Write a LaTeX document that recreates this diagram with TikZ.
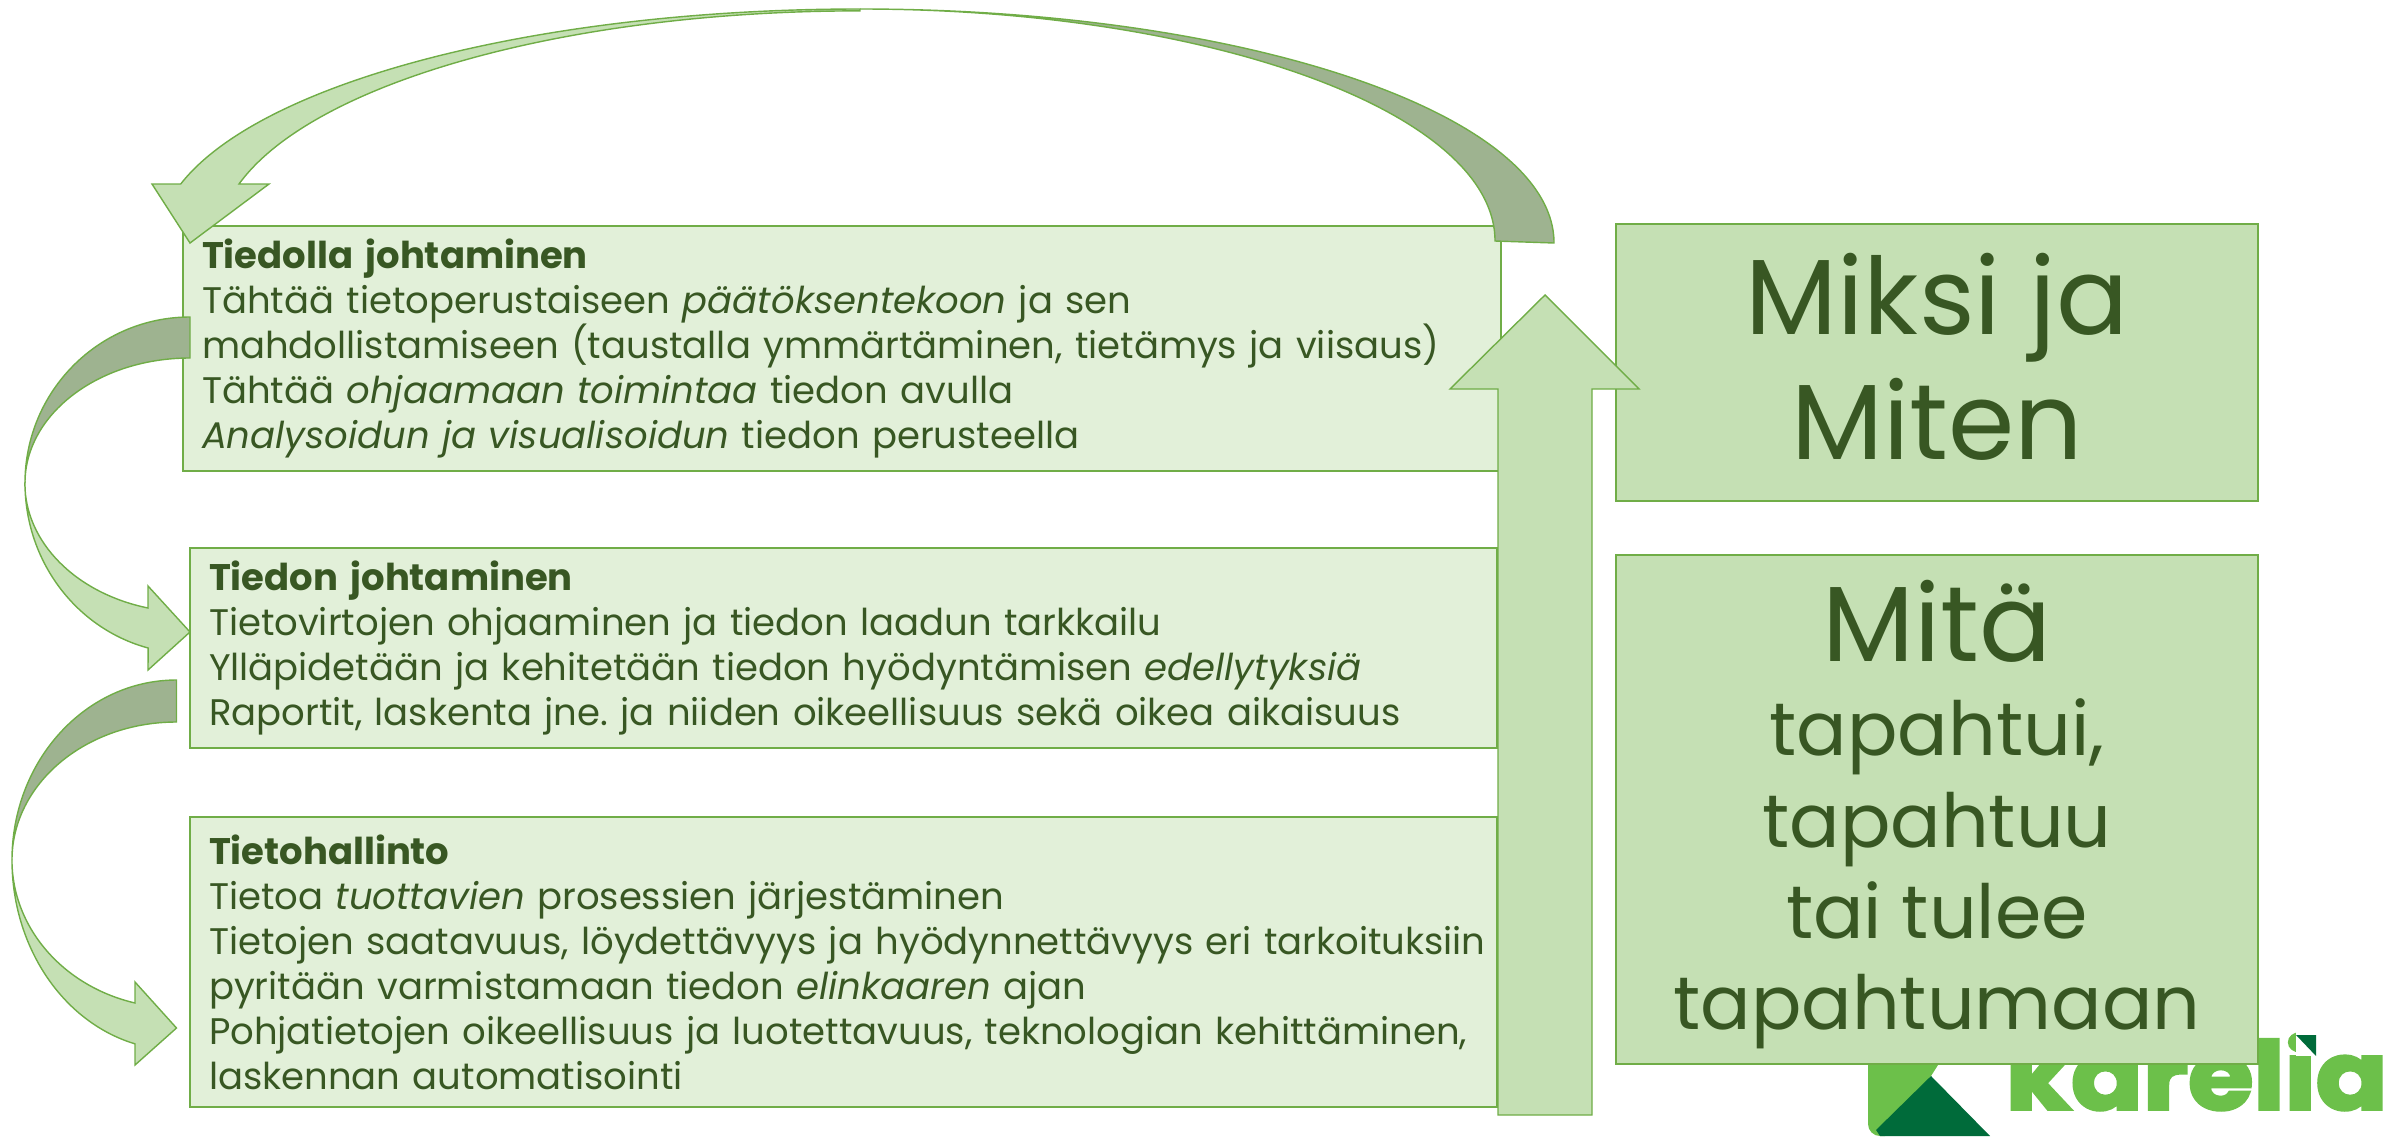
\documentclass[tikz,border=0pt]{standalone}
\usepackage{fontspec}
\setmainfont{Poppins}
\newfontfamily\logofont[BoldFeatures={FakeBold=3}]{Poppins}
\definecolor{boxline}{HTML}{70AD47}
\definecolor{boxpale}{HTML}{E2F0D9}
\definecolor{boxmid}{HTML}{C5E0B4}
\definecolor{banddark}{HTML}{9EB390}
\definecolor{textgreen}{HTML}{385723}
\definecolor{logolight}{HTML}{6CC04A}
\definecolor{logodark}{HTML}{006B3A}
\tikzset{
	infobox/.style={draw=boxline,fill=boxpale,line width=0.6pt,anchor=north west,inner xsep=0.19cm,inner ysep=0pt,outer sep=0pt,align=left,text=textgreen,font=\fontsize{10.53}{12.8}\selectfont},
	bigbox/.style={draw=boxline,fill=boxmid,line width=0.6pt,anchor=north west,inner sep=0pt,outer sep=0pt,align=center,text=textgreen},
	bandlight/.style={draw=boxline,fill=boxmid,line width=0.4pt,line join=miter},
	banddarker/.style={draw=boxline,fill=banddark,line width=0.4pt,line join=miter}
}
\begin{document}
\frenchspacing
\begin{tikzpicture}[line cap=butt,line join=miter,x=1.0cm,y=1.0cm]
	\useasboundingbox (0,0) rectangle (24.02,11.36);
	% logo behind the boxes
	\fill [logolight] (18.68,0.9) -- (18.68,0.12) arc[start angle=180,end angle=270,radius=0.12] -- (18.85,0) -- (19.31,0.60) -- (19.38,0.71) -- (19.38,0.9) -- cycle;
	\fill [logodark] (19.31,0.60) -- (19.90,0) -- (18.80,0) -- (18.76,0.06) -- cycle;
	\node (karelia) [anchor=south west,inner sep=0pt,text=logolight,font=\logofont\fontsize{27}{27}\bfseries\selectfont] at (20.05,0.25) {\scalebox{1.115}[1]{karelia}};
	\fill [white] (22.96,0.80) rectangle (23.16,1.10);
	\fill [logodark] (22.96,1.01) -- (23.16,1.01) -- (23.16,0.80) -- cycle;
	% text boxes
	\node (leading) [infobox,minimum width=13.18cm,minimum height=2.45cm,text width=12.80cm] at (1.83,9.10) {\textbf{Tiedolla johtaminen}\\
		Tähtää tietoperustaiseen \textit{päätöksentekoon} ja sen\\
		mahdollistamiseen (taustalla ymmärtäminen, tietämys ja viisaus)\\
		Tähtää \textit{ohjaamaan toimintaa} tiedon avulla\\
		\textit{Analysoidun ja visualisoidun} tiedon perusteella};
	\node (managing) [infobox,minimum width=13.07cm,minimum height=2.00cm,text width=12.69cm] at (1.90,5.88) {\textbf{Tiedon johtaminen}\\
		Tietovirtojen ohjaaminen ja tiedon laadun tarkkailu\\
		Ylläpidetään ja kehitetään tiedon hyödyntämisen \textit{edellytyksiä}\\
		Raportit, laskenta jne. ja niiden oikeellisuus sekä oikea aikaisuus};
	\node (admin) [infobox,minimum width=13.07cm,minimum height=2.90cm,text width=12.69cm] at (1.90,3.19) {\textbf{Tietohallinto}\\
		Tietoa \textit{tuottavien} prosessien järjestäminen\\
		\mbox{Tietojen saatavuus, löydettävyys ja hyödynnettävyys eri tarkoituksiin}\\
		pyritään varmistamaan tiedon \textit{elinkaaren} ajan\\
		Pohjatietojen oikeellisuus ja luotettavuus, teknologian kehittäminen,\\
		laskennan automatisointi};
	\node (why) [bigbox,minimum width=6.42cm,minimum height=2.77cm,font=\fontsize{30.4}{35.5}\selectfont] at (16.16,9.12) {Miksi ja\\Miten\rule[-0.12cm]{0pt}{0.12cm}};
	\node (what) [bigbox,minimum width=6.42cm,minimum height=5.09cm,font=\fontsize{21.25}{26}\selectfont] at (16.16,5.81) {{\fontsize{30.4}{36}\selectfont \rule{0pt}{26.1pt}Mitä}\\[0.03cm]
		tapahtui,\\tapahtuu\\tai tulee\\tapahtumaan};
	% top arrow
	\draw [banddarker] (15.54,8.93) arc[start angle=0,end angle=90,x radius=6.94,y radius=2.34] arc[start angle=90,end angle=0,x radius=6.35,y radius=2.32] -- cycle;
	\draw [bandlight] (8.60,11.27) arc[start angle=90,end angle=165.4,x radius=7.02,y radius=2.34] -- (1.52,9.52) -- (1.90,8.93) -- (2.69,9.52) -- (2.39,9.52) arc[start angle=165.3,end angle=90,x radius=6.42,y radius=2.32] -- cycle;
	% left arrow from the first box
	\draw [banddarker] (1.90,8.19) arc[start angle=90,end angle=180,x radius=1.65,y radius=1.66] arc[start angle=180,end angle=90,x radius=1.65,y radius=1.25] -- cycle;
	\draw [bandlight] (0.25,6.53) arc[start angle=180,end angle=255.3,x radius=1.65,y radius=1.706] -- (1.48,4.66) -- (1.90,5.04) -- (1.48,5.50) -- (1.48,5.28) arc[start angle=255.3,end angle=180,x radius=1.65,y radius=1.29] -- cycle;
	% left arrow from the second box
	\draw [banddarker] (1.765,4.56) arc[start angle=90,end angle=180,x radius=1.645,y radius=1.80] arc[start angle=180,end angle=90,x radius=1.645,y radius=1.38] -- cycle;
	\draw [bandlight] (0.12,2.76) arc[start angle=180,end angle=255.4,x radius=1.645,y radius=1.90] -- (1.35,0.71) -- (1.765,1.08) -- (1.35,1.54) -- (1.35,1.33) arc[start angle=255.4,end angle=180,x radius=1.645,y radius=1.48] -- cycle;
	% up arrow
	\draw [bandlight] (14.98,0.21) -- (14.98,7.47) -- (14.50,7.47) -- (15.45,8.41) -- (16.39,7.47) -- (15.92,7.47) -- (15.92,0.21) -- cycle;
\end{tikzpicture}
\end{document}
